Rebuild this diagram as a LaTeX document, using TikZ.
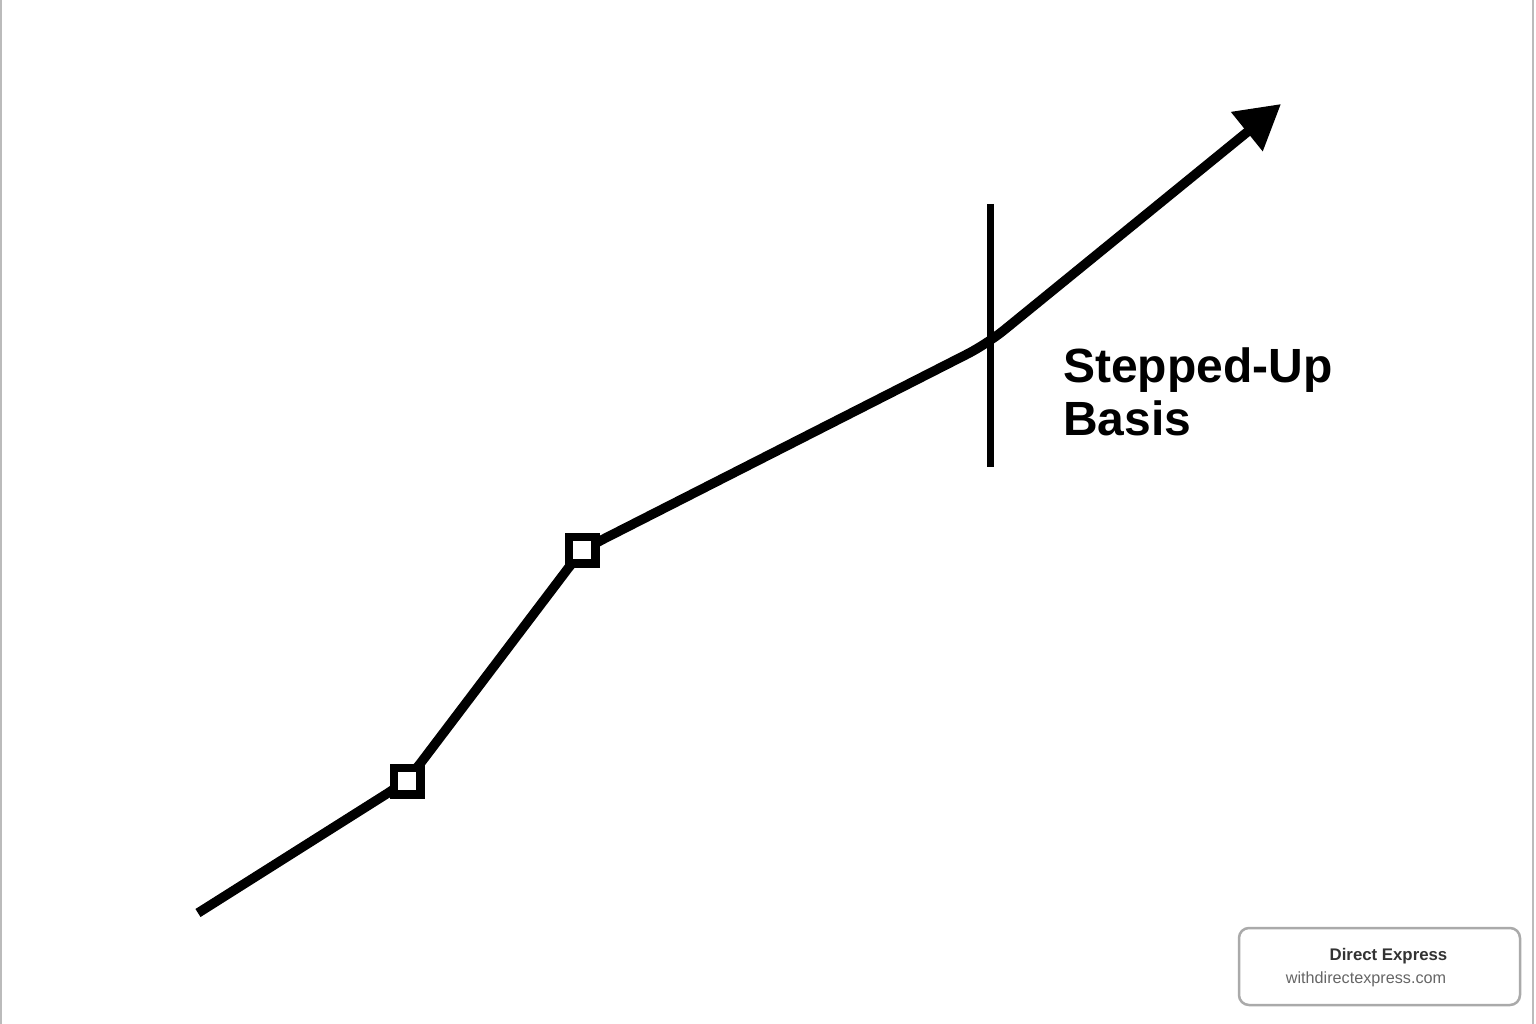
\documentclass[tikz,border=0pt]{standalone}
\usepackage{fontspec}
\setmainfont{Liberation Sans}
\usetikzlibrary{arrows.meta}
\definecolor{wmtext}{HTML}{333333}
\definecolor{wmsub}{HTML}{666666}
\definecolor{wmframe}{HTML}{AAAAAA}
\definecolor{edge}{HTML}{BBBBBB}
\begin{document}
\begin{tikzpicture}[x=1pt,y=-1pt,
  sqmark/.style={draw=black,fill=white,line width=8.5pt,minimum size=26.5pt,inner sep=0pt,shape=rectangle},
  trend/.style={draw=black,line width=9.5pt,line join=round},
  marker/.style={draw=black,line width=7pt},
  lbl/.style={font=\bfseries\fontsize{48}{53}\selectfont,align=left,inner sep=0pt},
  wmbox/.style={draw=wmframe,line width=2.5pt,rounded corners=10pt,fill=white,minimum width=281pt,minimum height=77pt,inner sep=0pt}]
\useasboundingbox (0,0) rectangle (1536,1024);
\fill[white] (0,0) rectangle (1536,1024);
\draw[edge,line width=1.5pt] (1,0) -- (1,1024);
\draw[edge,line width=1.5pt] (1533,0) -- (1533,1024);

% points
\coordinate (start) at (198,913);
\coordinate (bend) at (987,344);
\coordinate (tip) at (1281,104);
\coordinate (vtop) at (990,204);
\coordinate (vbot) at (990,467);

% trend line
\draw[trend,rounded corners=22pt] (start) -- (407,781) -- (582,550) -- (bend) -- (1262,120);
\draw[trend,-{Triangle[length=44pt,width=48pt]}] (1255,125) -- (tip);

% squares
\node[sqmark] (s1) at (407,781) {};
\node[sqmark] (s2) at (582,550) {};

% vertical marker
\draw[marker] (vtop) -- (vbot);

% label
\node[lbl,anchor=north west] (label) at (1063,348) {Stepped-Up\\Basis};

% watermark
\node[wmbox] (wm) at (1379.5,966.5) {};
\node[font=\bfseries\fontsize{16.8}{18}\selectfont,text=wmtext,anchor=base] (wmt) at (1388.5,960) {Direct Express};
\node[font=\fontsize{16.2}{18}\selectfont,text=wmsub,anchor=base] (wms) at (1366,983) {withdirectexpress.com};
\end{tikzpicture}
\end{document}
